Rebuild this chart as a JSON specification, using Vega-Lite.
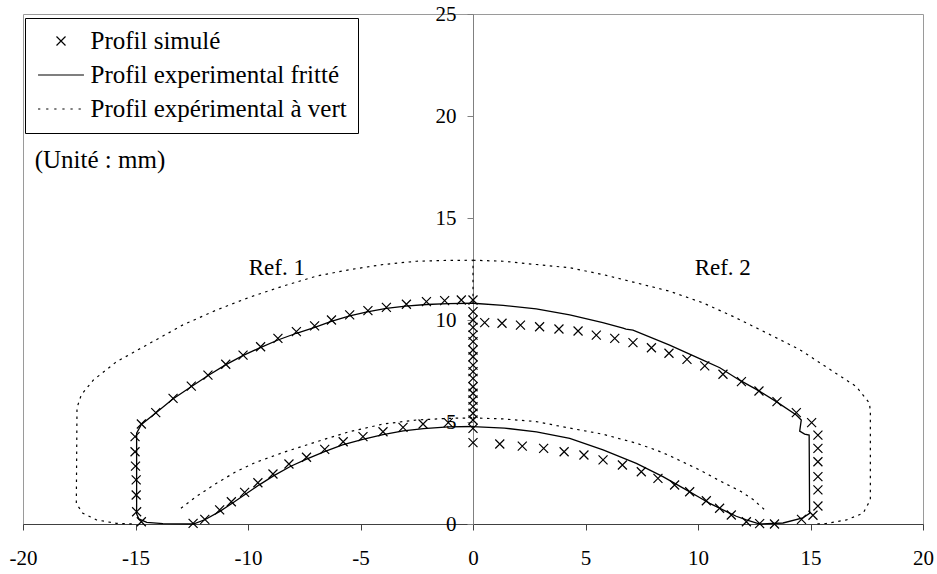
{
  "$schema": "https://vega.github.io/schema/vega-lite/v6.json",
  "width": 900,
  "height": 510,
  "autosize": {"type": "none"},
  "padding": {"left": 23, "top": 14, "right": 14, "bottom": 50},
  "background": "white",
  "config": {
    "view": {"stroke": "#9a9a9a", "strokeWidth": 1},
    "font": "Liberation Serif, DejaVu Serif, serif",
    "axis": {"grid": false, "labelFont": "Liberation Serif, DejaVu Serif, serif", "labelFontSize": 21, "labelColor": "black", "title": null, "labelFlush": false, "labelOverlap": false}
  },
  "datasets": {
    "sim": [
      {"x": -14.74, "y": 4.9, "serie": "Profil simulé"}, {"x": -14.1, "y": 5.46, "serie": "Profil simulé"}, {"x": -13.33, "y": 6.16, "serie": "Profil simulé"}, {"x": -12.52, "y": 6.76, "serie": "Profil simulé"}, {"x": -11.78, "y": 7.3, "serie": "Profil simulé"}, {"x": -10.99, "y": 7.83, "serie": "Profil simulé"}, {"x": -10.22, "y": 8.28, "serie": "Profil simulé"}, {"x": -9.44, "y": 8.69, "serie": "Profil simulé"}, {"x": -8.67, "y": 9.1, "serie": "Profil simulé"}, {"x": -7.85, "y": 9.43, "serie": "Profil simulé"}, {"x": -7.04, "y": 9.71, "serie": "Profil simulé"}, {"x": -6.29, "y": 10.0, "serie": "Profil simulé"}, {"x": -5.48, "y": 10.25, "serie": "Profil simulé"}, {"x": -4.67, "y": 10.46, "serie": "Profil simulé"}, {"x": -3.85, "y": 10.62, "serie": "Profil simulé"}, {"x": -2.96, "y": 10.77, "serie": "Profil simulé"}, {"x": -2.07, "y": 10.9, "serie": "Profil simulé"}, {"x": -1.26, "y": 10.95, "serie": "Profil simulé"}, {"x": -0.52, "y": 10.98, "serie": "Profil simulé"}, {"x": 0, "y": 10.98, "serie": "Profil simulé"},
      {"x": -15.02, "y": 4.28, "serie": "Profil simulé"}, {"x": -15.02, "y": 3.54, "serie": "Profil simulé"}, {"x": -15.0, "y": 2.84, "serie": "Profil simulé"}, {"x": -14.97, "y": 2.16, "serie": "Profil simulé"}, {"x": -14.97, "y": 1.42, "serie": "Profil simulé"}, {"x": -14.95, "y": 0.6, "serie": "Profil simulé"}, {"x": -14.74, "y": 0.11, "serie": "Profil simulé"},
      {"x": -12.44, "y": 0.03, "serie": "Profil simulé"}, {"x": -11.92, "y": 0.23, "serie": "Profil simulé"}, {"x": -11.26, "y": 0.69, "serie": "Profil simulé"}, {"x": -10.74, "y": 1.09, "serie": "Profil simulé"}, {"x": -10.15, "y": 1.55, "serie": "Profil simulé"}, {"x": -9.56, "y": 2.02, "serie": "Profil simulé"}, {"x": -8.89, "y": 2.45, "serie": "Profil simulé"}, {"x": -8.18, "y": 2.94, "serie": "Profil simulé"}, {"x": -7.4, "y": 3.27, "serie": "Profil simulé"}, {"x": -6.59, "y": 3.66, "serie": "Profil simulé"}, {"x": -5.77, "y": 4.03, "serie": "Profil simulé"}, {"x": -4.89, "y": 4.28, "serie": "Profil simulé"}, {"x": -4.0, "y": 4.52, "serie": "Profil simulé"}, {"x": -3.11, "y": 4.74, "serie": "Profil simulé"}, {"x": -2.22, "y": 4.9, "serie": "Profil simulé"}, {"x": -1.1, "y": 4.97, "serie": "Profil simulé"},
      {"x": 0, "y": 3.99, "serie": "Profil simulé"}, {"x": 0, "y": 4.69, "serie": "Profil simulé"}, {"x": 0, "y": 5.1, "serie": "Profil simulé"}, {"x": 0, "y": 5.43, "serie": "Profil simulé"}, {"x": 0, "y": 5.75, "serie": "Profil simulé"}, {"x": 0, "y": 6.08, "serie": "Profil simulé"}, {"x": 0, "y": 6.41, "serie": "Profil simulé"}, {"x": 0, "y": 6.73, "serie": "Profil simulé"}, {"x": 0, "y": 7.14, "serie": "Profil simulé"}, {"x": 0, "y": 7.47, "serie": "Profil simulé"}, {"x": 0, "y": 7.79, "serie": "Profil simulé"}, {"x": 0, "y": 8.2, "serie": "Profil simulé"}, {"x": 0, "y": 8.53, "serie": "Profil simulé"}, {"x": 0, "y": 8.94, "serie": "Profil simulé"}, {"x": 0, "y": 9.26, "serie": "Profil simulé"}, {"x": 0, "y": 9.64, "serie": "Profil simulé"}, {"x": 0, "y": 10.0, "serie": "Profil simulé"}, {"x": 0, "y": 10.41, "serie": "Profil simulé"},
      {"x": 0.52, "y": 9.87, "serie": "Profil simulé"}, {"x": 1.29, "y": 9.84, "serie": "Profil simulé"}, {"x": 2.11, "y": 9.75, "serie": "Profil simulé"}, {"x": 2.96, "y": 9.67, "serie": "Profil simulé"}, {"x": 3.82, "y": 9.56, "serie": "Profil simulé"}, {"x": 4.67, "y": 9.46, "serie": "Profil simulé"}, {"x": 5.48, "y": 9.26, "serie": "Profil simulé"}, {"x": 6.3, "y": 9.1, "serie": "Profil simulé"}, {"x": 7.11, "y": 8.89, "serie": "Profil simulé"}, {"x": 7.93, "y": 8.64, "serie": "Profil simulé"}, {"x": 8.71, "y": 8.37, "serie": "Profil simulé"}, {"x": 9.51, "y": 8.07, "serie": "Profil simulé"}, {"x": 10.3, "y": 7.75, "serie": "Profil simulé"}, {"x": 11.11, "y": 7.34, "serie": "Profil simulé"}, {"x": 11.93, "y": 6.98, "serie": "Profil simulé"}, {"x": 12.71, "y": 6.52, "serie": "Profil simulé"}, {"x": 13.51, "y": 6.0, "serie": "Profil simulé"}, {"x": 14.37, "y": 5.46, "serie": "Profil simulé"}, {"x": 15.05, "y": 4.97, "serie": "Profil simulé"},
      {"x": 15.33, "y": 4.36, "serie": "Profil simulé"}, {"x": 15.33, "y": 3.71, "serie": "Profil simulé"}, {"x": 15.33, "y": 3.05, "serie": "Profil simulé"}, {"x": 15.33, "y": 2.32, "serie": "Profil simulé"}, {"x": 15.33, "y": 1.67, "serie": "Profil simulé"}, {"x": 15.33, "y": 0.88, "serie": "Profil simulé"}, {"x": 15.11, "y": 0.43, "serie": "Profil simulé"}, {"x": 14.6, "y": 0.23, "serie": "Profil simulé"}, {"x": 13.4, "y": 0.0, "serie": "Profil simulé"},
      {"x": 1.19, "y": 3.92, "serie": "Profil simulé"}, {"x": 2.19, "y": 3.82, "serie": "Profil simulé"}, {"x": 3.14, "y": 3.71, "serie": "Profil simulé"}, {"x": 4.05, "y": 3.54, "serie": "Profil simulé"}, {"x": 4.93, "y": 3.38, "serie": "Profil simulé"}, {"x": 5.78, "y": 3.14, "serie": "Profil simulé"}, {"x": 6.64, "y": 2.89, "serie": "Profil simulé"}, {"x": 7.48, "y": 2.56, "serie": "Profil simulé"}, {"x": 8.22, "y": 2.24, "serie": "Profil simulé"}, {"x": 8.96, "y": 1.91, "serie": "Profil simulé"}, {"x": 9.63, "y": 1.58, "serie": "Profil simulé"}, {"x": 10.37, "y": 1.14, "serie": "Profil simulé"}, {"x": 10.96, "y": 0.77, "serie": "Profil simulé"}, {"x": 11.48, "y": 0.44, "serie": "Profil simulé"}, {"x": 12.15, "y": 0.11, "serie": "Profil simulé"}, {"x": 12.74, "y": 0.02, "serie": "Profil simulé"}
    ],
    "fritte": [
      {"part": "L", "x": 0, "y": 10.82}, {"part": "L", "x": -1.1, "y": 10.8}, {"part": "L", "x": -2.07, "y": 10.76}, {"part": "L", "x": -3.0, "y": 10.68}, {"part": "L", "x": -3.85, "y": 10.57}, {"part": "L", "x": -4.7, "y": 10.4}, {"part": "L", "x": -5.48, "y": 10.2}, {"part": "L", "x": -6.3, "y": 9.93}, {"part": "L", "x": -7.03, "y": 9.64}, {"part": "L", "x": -7.85, "y": 9.35}, {"part": "L", "x": -8.67, "y": 9.02}, {"part": "L", "x": -9.45, "y": 8.65}, {"part": "L", "x": -10.23, "y": 8.25}, {"part": "L", "x": -11.0, "y": 7.8}, {"part": "L", "x": -11.77, "y": 7.28}, {"part": "L", "x": -12.51, "y": 6.74}, {"part": "L", "x": -13.34, "y": 6.13}, {"part": "L", "x": -14.1, "y": 5.44}, {"part": "L", "x": -14.74, "y": 4.88}, {"part": "L", "x": -14.95, "y": 4.45}, {"part": "L", "x": -14.95, "y": 0.5}, {"part": "L", "x": -14.85, "y": 0.25}, {"part": "L", "x": -14.5, "y": 0.08}, {"part": "L", "x": -13.78, "y": 0.02}, {"part": "L", "x": -12.43, "y": 0.0}, {"part": "L", "x": -11.9, "y": 0.22}, {"part": "L", "x": -11.25, "y": 0.62}, {"part": "L", "x": -10.7, "y": 1.02}, {"part": "L", "x": -10.1, "y": 1.47}, {"part": "L", "x": -9.5, "y": 1.92}, {"part": "L", "x": -8.85, "y": 2.37}, {"part": "L", "x": -8.1, "y": 2.83}, {"part": "L", "x": -7.4, "y": 3.18}, {"part": "L", "x": -6.6, "y": 3.55}, {"part": "L", "x": -5.8, "y": 3.88}, {"part": "L", "x": -4.9, "y": 4.15}, {"part": "L", "x": -4.0, "y": 4.38}, {"part": "L", "x": -3.1, "y": 4.56}, {"part": "L", "x": -2.2, "y": 4.68}, {"part": "L", "x": -1.1, "y": 4.76}, {"part": "L", "x": 0, "y": 4.78},
      {"part": "R", "x": 0, "y": 10.82}, {"part": "R", "x": 1.34, "y": 10.72}, {"part": "R", "x": 2.81, "y": 10.55}, {"part": "R", "x": 4.3, "y": 10.25}, {"part": "R", "x": 5.77, "y": 9.87}, {"part": "R", "x": 6.67, "y": 9.6}, {"part": "R", "x": 6.8, "y": 9.55}, {"part": "R", "x": 7.11, "y": 9.5}, {"part": "R", "x": 8.74, "y": 8.77}, {"part": "R", "x": 10.22, "y": 8.03}, {"part": "R", "x": 10.97, "y": 7.66}, {"part": "R", "x": 11.85, "y": 7.05}, {"part": "R", "x": 12.67, "y": 6.55}, {"part": "R", "x": 13.48, "y": 6.0}, {"part": "R", "x": 14.37, "y": 5.34}, {"part": "R", "x": 14.59, "y": 5.1}, {"part": "R", "x": 14.52, "y": 4.55}, {"part": "R", "x": 14.74, "y": 4.41}, {"part": "R", "x": 14.94, "y": 4.36}, {"part": "R", "x": 14.96, "y": 0.52}, {"part": "R", "x": 14.66, "y": 0.3}, {"part": "R", "x": 13.78, "y": 0.05}, {"part": "R", "x": 12.75, "y": 0.0}, {"part": "R", "x": 12.15, "y": 0.2}, {"part": "R", "x": 11.7, "y": 0.38}, {"part": "R", "x": 11.41, "y": 0.53}, {"part": "R", "x": 10.82, "y": 0.85}, {"part": "R", "x": 10.52, "y": 1.01}, {"part": "R", "x": 10.07, "y": 1.3}, {"part": "R", "x": 9.48, "y": 1.67}, {"part": "R", "x": 8.44, "y": 2.32}, {"part": "R", "x": 7.26, "y": 2.97}, {"part": "R", "x": 5.78, "y": 3.63}, {"part": "R", "x": 4.3, "y": 4.2}, {"part": "R", "x": 2.82, "y": 4.52}, {"part": "R", "x": 1.4, "y": 4.7}, {"part": "R", "x": 0, "y": 4.77}
    ],
    "vert": [
      {"part": "LO", "x": 0, "y": 10.82}, {"part": "LO", "x": 0, "y": 12.93}, {"part": "LO", "x": -1.2, "y": 12.92}, {"part": "LO", "x": -2.51, "y": 12.88}, {"part": "LO", "x": -3.99, "y": 12.72}, {"part": "LO", "x": -5.48, "y": 12.47}, {"part": "LO", "x": -6.96, "y": 12.15}, {"part": "LO", "x": -8.45, "y": 11.66}, {"part": "LO", "x": -9.92, "y": 11.12}, {"part": "LO", "x": -11.4, "y": 10.49}, {"part": "LO", "x": -12.89, "y": 9.76}, {"part": "LO", "x": -14.51, "y": 8.77}, {"part": "LO", "x": -15.85, "y": 7.95}, {"part": "LO", "x": -16.88, "y": 7.05}, {"part": "LO", "x": -17.41, "y": 6.33}, {"part": "LO", "x": -17.6, "y": 5.7}, {"part": "LO", "x": -17.63, "y": 1.0}, {"part": "LO", "x": -17.34, "y": 0.53}, {"part": "LO", "x": -16.73, "y": 0.2}, {"part": "LO", "x": -15.85, "y": 0.03}, {"part": "LO", "x": -15.0, "y": 0.0},
      {"part": "LI", "x": -12.98, "y": 0.77}, {"part": "LI", "x": -12.32, "y": 1.33}, {"part": "LI", "x": -11.4, "y": 2.0}, {"part": "LI", "x": -10.52, "y": 2.57}, {"part": "LI", "x": -9.7, "y": 3.0}, {"part": "LI", "x": -8.45, "y": 3.5}, {"part": "LI", "x": -6.96, "y": 4.03}, {"part": "LI", "x": -5.48, "y": 4.53}, {"part": "LI", "x": -3.99, "y": 4.9}, {"part": "LI", "x": -2.51, "y": 5.1}, {"part": "LI", "x": -1.04, "y": 5.18}, {"part": "LI", "x": 0, "y": 5.2},
      {"part": "RO", "x": 0, "y": 12.93}, {"part": "RO", "x": 1.34, "y": 12.88}, {"part": "RO", "x": 2.81, "y": 12.72}, {"part": "RO", "x": 4.3, "y": 12.56}, {"part": "RO", "x": 5.77, "y": 12.23}, {"part": "RO", "x": 7.26, "y": 11.82}, {"part": "RO", "x": 8.74, "y": 11.41}, {"part": "RO", "x": 10.22, "y": 10.84}, {"part": "RO", "x": 11.55, "y": 10.18}, {"part": "RO", "x": 13.04, "y": 9.37}, {"part": "RO", "x": 14.52, "y": 8.55}, {"part": "RO", "x": 16.0, "y": 7.48}, {"part": "RO", "x": 17.03, "y": 6.74}, {"part": "RO", "x": 17.62, "y": 5.93}, {"part": "RO", "x": 17.66, "y": 5.5}, {"part": "RO", "x": 17.66, "y": 1.18}, {"part": "RO", "x": 17.34, "y": 0.53}, {"part": "RO", "x": 16.6, "y": 0.2}, {"part": "RO", "x": 15.71, "y": 0.03}, {"part": "RO", "x": 15.19, "y": 0.0},
      {"part": "RI", "x": 0, "y": 5.2}, {"part": "RI", "x": 1.34, "y": 5.15}, {"part": "RI", "x": 2.81, "y": 5.02}, {"part": "RI", "x": 4.3, "y": 4.7}, {"part": "RI", "x": 5.78, "y": 4.4}, {"part": "RI", "x": 7.26, "y": 3.96}, {"part": "RI", "x": 8.15, "y": 3.62}, {"part": "RI", "x": 8.74, "y": 3.35}, {"part": "RI", "x": 10.07, "y": 2.65}, {"part": "RI", "x": 11.0, "y": 2.1}, {"part": "RI", "x": 11.9, "y": 1.6}, {"part": "RI", "x": 12.45, "y": 1.2}, {"part": "RI", "x": 12.97, "y": 0.69}
    ],
    "refs": [
      {"x": -8.72, "y": 12.55, "t": "Ref. 1"},
      {"x": 11.1, "y": 12.55, "t": "Ref. 2"}
    ],
    "unit": [
      {"x": -19.48, "y": 17.84, "t": "(Unité : mm)"}
    ]
  },
  "layer": [
    {
      "data": {"name": "vert"},
      "mark": {"type": "line", "color": "black", "strokeWidth": 1.2, "strokeDash": [2.5, 4.5]},
      "encoding": {
        "x": {"field": "x", "type": "quantitative", "scale": {"domain": [-20, 20], "nice": false},
          "axis": {"values": [-20, -15, -10, -5, 0, 5, 10, 15, 20], "domainColor": "#404040", "tickColor": "#404040", "tickSize": 6, "labelPadding": 17, "labelExpr": "'' + datum.value"}},
        "y": {"field": "y", "type": "quantitative", "scale": {"domain": [0, 25], "nice": false},
          "axis": {"values": [0, 5, 10, 15, 20, 25], "offset": -450, "domainColor": "#808080", "tickColor": "#808080", "tickSize": 6, "labelPadding": 11}},
        "detail": {"field": "part"},
        "order": {"value": null}
      }
    },
    {
      "data": {"name": "fritte"},
      "mark": {"type": "line", "color": "black", "strokeWidth": 1.3},
      "encoding": {
        "x": {"field": "x", "type": "quantitative"},
        "y": {"field": "y", "type": "quantitative"},
        "detail": {"field": "part"},
        "order": {"value": null}
      }
    },
    {
      "data": {"name": "sim"},
      "mark": {"type": "point", "filled": false, "color": "black", "strokeWidth": 1.2, "size": 81, "opacity": 1},
      "encoding": {
        "x": {"field": "x", "type": "quantitative"},
        "y": {"field": "y", "type": "quantitative"},
        "shape": {
          "field": "serie", "type": "nominal",
          "scale": {
            "domain": ["Profil simulé", "Profil experimental fritté", "Profil expérimental à vert"],
            "range": ["M-1,-1L1,1M-1,1L1,-1", "M-5.1,0L5.1,0", "M-5.1,0L-4.6,0M-3.3,0L-2.8,0M-1.5,0L-1.0,0M0.3,0L0.8,0M2.1,0L2.6,0M3.9,0L4.4,0"]
          },
          "legend": {
            "title": null, "orient": "none", "legendX": 2, "legendY": 4,
            "padding": 10.5, "strokeColor": "black", "fillColor": "white",
            "labelFont": "Liberation Serif, DejaVu Serif, serif", "labelFontSize": 25, "labelColor": "black", "labelLimit": 500,
            "symbolSize": 81, "symbolStrokeWidth": 1.2, "symbolStrokeColor": "black", "symbolFillColor": "transparent",
            "symbolOffset": 13, "labelOffset": 17, "rowPadding": 8
          }
        }
      }
    },
    {
      "data": {"name": "refs"},
      "mark": {"type": "text", "font": "Liberation Serif, DejaVu Serif, serif", "fontSize": 23, "color": "black", "align": "center", "baseline": "middle"},
      "encoding": {
        "x": {"field": "x", "type": "quantitative"},
        "y": {"field": "y", "type": "quantitative"},
        "text": {"field": "t"}
      }
    },
    {
      "data": {"name": "unit"},
      "mark": {"type": "text", "font": "Liberation Serif, DejaVu Serif, serif", "fontSize": 25, "color": "black", "align": "left", "baseline": "middle"},
      "encoding": {
        "x": {"field": "x", "type": "quantitative"},
        "y": {"field": "y", "type": "quantitative"},
        "text": {"field": "t"}
      }
    }
  ]
}
